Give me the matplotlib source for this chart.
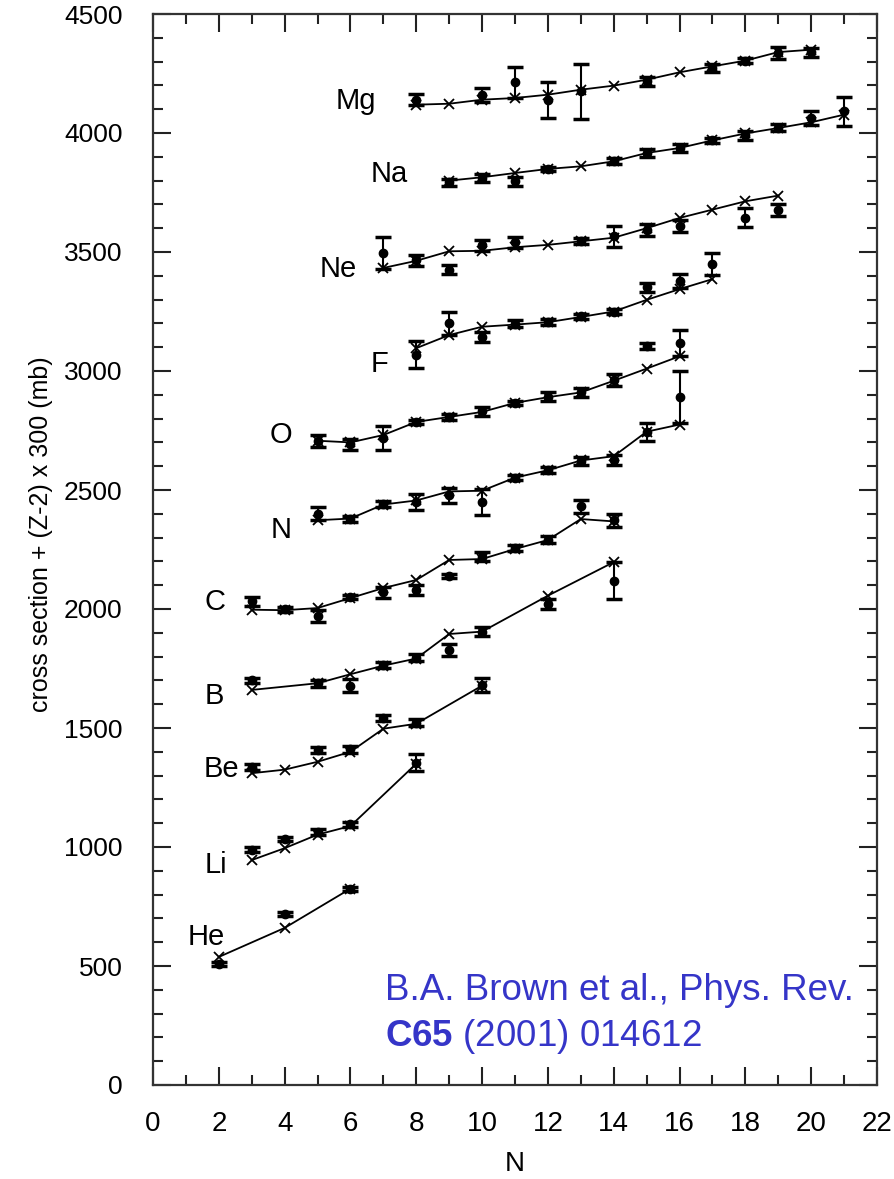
import numpy as np
import matplotlib

matplotlib.use("Agg")
import matplotlib.pyplot as plt
from matplotlib.ticker import MultipleLocator

plt.rcParams["font.family"] = ["Liberation Sans", "DejaVu Sans"]
plt.rcParams["mathtext.fontset"] = "custom"
plt.rcParams["mathtext.rm"] = "Liberation Sans"
plt.rcParams["mathtext.bf"] = "Liberation Sans:bold"

nan = np.nan

# cross section + (Z-2) x 300 in mb; "calc" = theory (x), "exp" = measured (dots)
HE_N = [2, 4, 6]
HE_CALC = [538, 660, 825]
HE_EXP = [508, 720, 822]
HE_ERR = [8, 8, 8]

LI_N = [3, 4, 5, 6, 8]
LI_CALC = [945, 995, 1052, 1088, 1350]
LI_EXP = [988, 1034, 1062, 1095, 1355]
LI_ERR = [10, 10, 12, 10, 36]

BE_N = [3, 4, 5, 6, 7, 8, 10]
BE_CALC = [1310, 1325, 1358, 1400, 1497, 1518, 1678]
BE_EXP = [1335, nan, 1407, 1410, 1542, 1522, 1680]
BE_ERR = [12, nan, 12, 15, 12, 15, 30]

B_N = [3, 5, 6, 7, 8, 9, 10, 12, 14]
B_CALC = [1660, 1688, 1726, 1762, 1792, 1895, 1905, 2056, 2197]
B_EXP = [1700, 1688, 1678, 1765, 1795, 1828, 1905, 2020, 2118]
B_ERR = [10, 15, 28, 12, 15, 25, 18, 22, 78]

C_N = [3, 4, 5, 6, 7, 8, 9, 10, 11, 12, 13, 14]
C_CALC = [1997, 1995, 2004, 2046, 2088, 2122, 2206, 2210, 2252, 2290, 2378, 2368]
C_EXP = [2032, 1998, 1970, 2050, 2070, 2080, 2140, 2220, 2255, 2292, 2432, 2372]
C_ERR = [20, 10, 25, 10, 22, 22, 8, 20, 12, 15, 28, 28]

N_N = [5, 6, 7, 8, 9, 10, 11, 12, 13, 14, 15, 16]
N_CALC = [2373, 2380, 2439, 2456, 2494, 2497, 2552, 2583, 2624, 2642, 2745, 2775]
N_EXP = [2400, 2378, 2440, 2449, 2477, 2449, 2552, 2583, 2622, 2625, 2745, 2890]
N_ERR = [28, 12, 12, 35, 30, 55, 12, 12, 18, 20, 38, 110]

O_N = [5, 6, 7, 8, 9, 10, 11, 12, 13, 14, 15, 16]
O_CALC = [2707, 2700, 2731, 2786, 2807, 2828, 2866, 2890, 2910, 2959, 3010, 3062]
O_EXP = [2707, 2692, 2720, 2786, 2807, 2830, 2866, 2892, 2910, 2962, 3106, 3117]
O_ERR = [25, 22, 50, 10, 12, 20, 10, 18, 20, 25, 12, 55]

F_N = [8, 9, 10, 11, 12, 13, 14, 15, 16, 17]
F_CALC = [3096, 3151, 3186, 3195, 3205, 3227, 3250, 3299, 3344, 3386]
F_EXP = [3069, 3200, 3142, 3198, 3205, 3230, 3250, 3351, 3378, 3450]
F_ERR = [55, 48, 22, 15, 12, 10, 12, 18, 28, 45]

NE_N = [7, 8, 9, 10, 11, 12, 13, 14, 15, 16, 17, 18, 19]
NE_CALC = [3433, 3463, 3503, 3505, 3520, 3530, 3545, 3560, 3600, 3643, 3678, 3713, 3737]
NE_EXP = [3496, 3465, 3426, 3528, 3540, nan, 3545, 3566, 3594, 3608, nan, 3643, 3678]
NE_ERR = [67, 22, 20, 22, 22, nan, 12, 45, 25, 25, nan, 40, 25]

NA_N = [9, 10, 11, 12, 13, 14, 15, 16, 17, 18, 19, 20, 21]
NA_CALC = [3800, 3814, 3832, 3849, 3860, 3881, 3916, 3937, 3969, 3998, 4021, 4045, 4077]
NA_EXP = [3793, 3811, 3797, 3849, nan, 3883, 3916, 3937, 3969, 3990, 4023, 4063, 4091]
NA_ERR = [15, 15, 20, 10, nan, 12, 15, 15, 12, 20, 15, 30, 60]

MG_N = [8, 9, 10, 11, 12, 13, 14, 15, 16, 17, 18, 19, 20]
MG_CALC = [4119, 4123, 4140, 4147, 4161, 4182, 4199, 4224, 4255, 4280, 4304, 4340, 4350]
MG_EXP = [4140, nan, 4161, 4213, 4140, 4175, nan, 4217, nan, 4273, 4304, 4336, 4339]
MG_ERR = [22, nan, 30, 65, 75, 115, nan, 20, nan, 18, 10, 25, 18]

ELEMENTS = ["He", "Li", "Be", "B", "C", "N", "O", "F", "Ne", "Na", "Mg"]
LABEL_X = [1.06, 1.58, 1.55, 1.58, 1.55, 3.56, 3.53, 6.6, 5.05, 6.6, 5.56]
LABEL_Y = [588, 891, 1294, 1601, 1996, 2298, 2697, 2996, 3395, 3794, 4101]

SERIES = [
    (HE_N, HE_CALC, HE_EXP, HE_ERR),
    (LI_N, LI_CALC, LI_EXP, LI_ERR),
    (BE_N, BE_CALC, BE_EXP, BE_ERR),
    (B_N, B_CALC, B_EXP, B_ERR),
    (C_N, C_CALC, C_EXP, C_ERR),
    (N_N, N_CALC, N_EXP, N_ERR),
    (O_N, O_CALC, O_EXP, O_ERR),
    (F_N, F_CALC, F_EXP, F_ERR),
    (NE_N, NE_CALC, NE_EXP, NE_ERR),
    (NA_N, NA_CALC, NA_EXP, NA_ERR),
    (MG_N, MG_CALC, MG_EXP, MG_ERR),
]

fig = plt.figure(figsize=(8.94, 11.79), dpi=100)
ax = fig.add_axes([153 / 894, 1 - 1085 / 1179, (877 - 153) / 894, (1085 - 14) / 1179])

for n, calc, exp, err in SERIES:
    ax.plot(n, calc, "-", color="black", lw=1.3, marker="x", ms=7, mew=1.3, zorder=3)
    ax.errorbar(n, exp, yerr=err, fmt="o", color="black", ms=6,
                capsize=5.5, capthick=2.5, elinewidth=1.5, zorder=4)

for name, lx, ly in zip(ELEMENTS, LABEL_X, LABEL_Y):
    ax.text(lx, ly, name, fontsize=21, ha="left", va="baseline")

ax.set_xlim(0, 22)
ax.set_ylim(0, 4500)
ax.xaxis.set_major_locator(MultipleLocator(2))
ax.xaxis.set_minor_locator(MultipleLocator(1))
ax.yaxis.set_major_locator(MultipleLocator(500))
ax.yaxis.set_minor_locator(MultipleLocator(100))
ax.tick_params(which="both", direction="in", top=True, right=True, color="#222222")
ax.tick_params(which="major", length=13, width=1.5)
ax.tick_params(which="minor", length=7, width=1.5)
ax.tick_params(axis="x", which="major", labelsize=20, pad=19)
ax.tick_params(axis="y", which="major", labelsize=19, pad=22)
for sp in ax.spines.values():
    sp.set_linewidth(1.6)
    sp.set_color("#333333")

ax.set_xlabel("N", fontsize=20, labelpad=10)
ax.set_ylabel("cross section + (Z-2) x 300 (mb)", fontsize=18, labelpad=8)
ax.yaxis.label.set_y(0.514)

ref_color = "#3535c8"
ax.text(7.05, 399, "B.A. Brown et al., Phys. Rev.", fontsize=26.5, color=ref_color,
        ha="left", va="center")
ax.text(7.05, 202, r"$\mathbf{C65}$ (2001) 014612", fontsize=26.5, color=ref_color,
        ha="left", va="center")

fig.savefig("out.png", dpi=100)
